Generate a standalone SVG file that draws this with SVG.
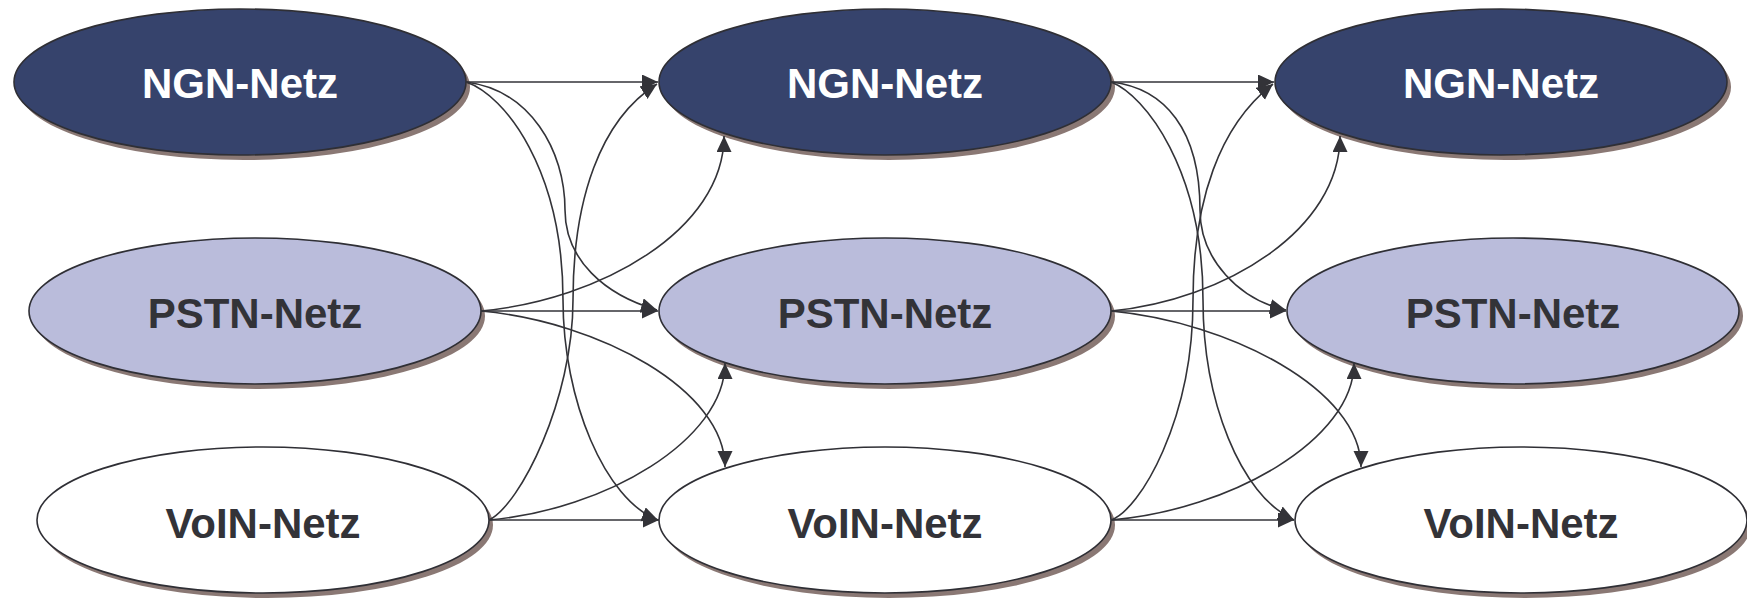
<svg xmlns="http://www.w3.org/2000/svg" width="1747" height="598" viewBox="0 0 1747 598">
<defs>
<marker id="arr" markerUnits="userSpaceOnUse" markerWidth="17" markerHeight="16" refX="16" refY="7.5" orient="auto">
<path d="M0,0 L16,7.5 L0,15 z" fill="#333338"/>
</marker>
</defs>
<style>
.sh{fill:#8a7874}
.node{stroke:#2f2f35;stroke-width:1.6}
.ngn{fill:#36436c}
.pstn{fill:#babcdb}
.voin{fill:#ffffff}
.lbl{font-family:"Liberation Sans",Arial,sans-serif;font-weight:bold;font-size:42px;text-anchor:middle}
.lw{fill:#ffffff}
.ld{fill:#333338}
.c{fill:none;stroke:#333338;stroke-width:1.6;marker-end:url(#arr)}
</style>
<g id="ngn1"><ellipse class="sh" cx="244" cy="87" rx="226" ry="73"/><ellipse class="node ngn" cx="240" cy="82" rx="226" ry="73"/><text class="lbl lw" x="240" y="98">NGN-Netz</text></g>
<g id="pstn1"><ellipse class="sh" cx="259" cy="316" rx="226" ry="73"/><ellipse class="node pstn" cx="255" cy="311" rx="226" ry="73"/><text class="lbl ld" x="255" y="328">PSTN-Netz</text></g>
<g id="voin1"><ellipse class="sh" cx="267" cy="525" rx="226" ry="73"/><ellipse class="node voin" cx="263" cy="520" rx="226" ry="73"/><text class="lbl ld" x="263" y="538">VoIN-Netz</text></g>
<g id="ngn2"><ellipse class="sh" cx="889" cy="87" rx="226" ry="73"/><ellipse class="node ngn" cx="885" cy="82" rx="226" ry="73"/><text class="lbl lw" x="885" y="98">NGN-Netz</text></g>
<g id="pstn2"><ellipse class="sh" cx="889" cy="316" rx="226" ry="73"/><ellipse class="node pstn" cx="885" cy="311" rx="226" ry="73"/><text class="lbl ld" x="885" y="328">PSTN-Netz</text></g>
<g id="voin2"><ellipse class="sh" cx="889" cy="525" rx="226" ry="73"/><ellipse class="node voin" cx="885" cy="520" rx="226" ry="73"/><text class="lbl ld" x="885" y="538">VoIN-Netz</text></g>
<g id="ngn3"><ellipse class="sh" cx="1505" cy="87" rx="226" ry="73"/><ellipse class="node ngn" cx="1501" cy="82" rx="226" ry="73"/><text class="lbl lw" x="1501" y="98">NGN-Netz</text></g>
<g id="pstn3"><ellipse class="sh" cx="1517" cy="316" rx="226" ry="73"/><ellipse class="node pstn" cx="1513" cy="311" rx="226" ry="73"/><text class="lbl ld" x="1513" y="328">PSTN-Netz</text></g>
<g id="voin3"><ellipse class="sh" cx="1525" cy="525" rx="226" ry="73"/><ellipse class="node voin" cx="1521" cy="520" rx="226" ry="73"/><text class="lbl ld" x="1521" y="538">VoIN-Netz</text></g>
<g id="connectors">
<path class="c" d="M466,82 L658,82"/>
<path class="c" d="M466,82 C530,90 565,150 565,210 C565,260 605,295 657,310"/>
<path class="c" d="M466,82 C505,95 563,170 563,300 C563,400 605,500 658,520"/>
<path class="c" d="M481,311 C600,300 724,230 724,136"/>
<path class="c" d="M481,311 L658,311"/>
<path class="c" d="M481,311 C600,322 725,390 725,467"/>
<path class="c" d="M489,520 C520,505 573,400 573,300 C573,200 600,120 657,84"/>
<path class="c" d="M489,520 C605,510 725,440 725,363"/>
<path class="c" d="M489,520 L659,520"/>
<path class="c" d="M1111,82 L1274,82"/>
<path class="c" d="M1111,82 C1165,88 1200,130 1200,210 C1200,260 1240,300 1286,310"/>
<path class="c" d="M1111,82 C1145,95 1203,170 1203,300 C1203,400 1240,495 1294,520"/>
<path class="c" d="M1111,311 C1225,300 1340,230 1340,136"/>
<path class="c" d="M1111,311 L1286,311"/>
<path class="c" d="M1111,311 C1230,322 1361,390 1361,467"/>
<path class="c" d="M1111,520 C1140,510 1193,420 1193,300 C1193,200 1220,125 1273,84"/>
<path class="c" d="M1111,520 C1230,510 1354,440 1354,363"/>
<path class="c" d="M1111,520 L1294,520"/>
</g>
</svg>
